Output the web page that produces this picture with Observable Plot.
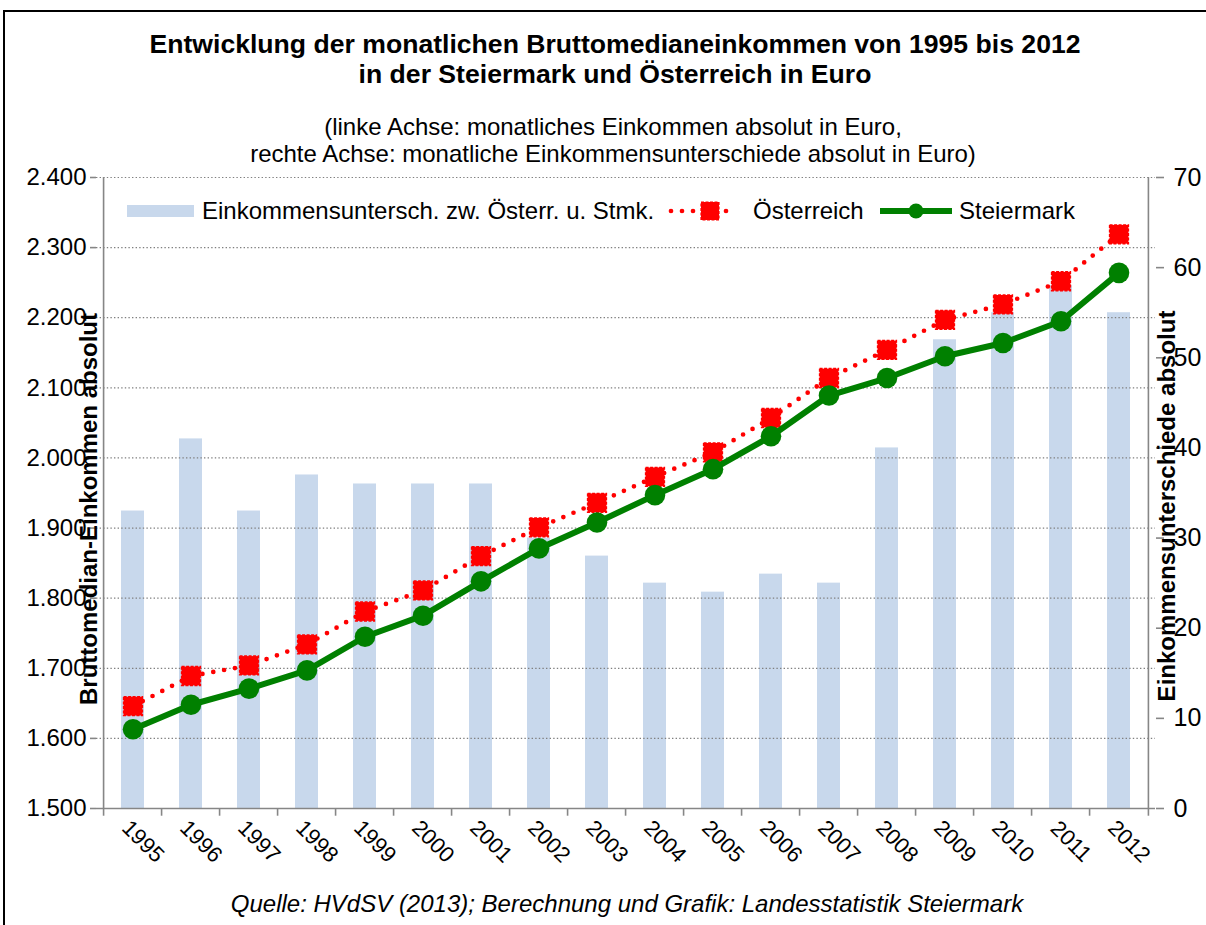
<!DOCTYPE html>
<html lang="de">
<head>
<meta charset="utf-8">
<script src="https://cdn.jsdelivr.net/npm/d3@7"></script>
<script src="https://cdn.jsdelivr.net/npm/@observablehq/plot@0.6"></script>
<style>
html,body{margin:0;padding:0;background:#fff;}
#wrap{position:relative;width:1206px;height:925px;overflow:hidden;font-family:"Liberation Sans",Arial,sans-serif;color:#000;background:#fff;}
#frame{position:absolute;left:3px;top:10px;width:1300px;height:1000px;border-left:2px solid #000;border-top:2px solid #000;}
#chart{position:absolute;left:0;top:0;}
.txt{position:absolute;white-space:nowrap;text-align:center;}
.title{font-weight:bold;font-size:26.6px;line-height:30px;top:29px;left:0;width:1230px;}
.sub{font-size:24px;line-height:27px;top:113px;left:0;width:1226px;}
.cap{font-style:italic;font-size:24px;line-height:26px;top:891px;left:0;width:1254px;}
.leg{position:absolute;top:197px;font-size:24px;line-height:28px;white-space:nowrap;}
.sym{position:absolute;overflow:visible;}
</style>
</head>
<body>
<div id="wrap">
  <div id="chart"></div>
  <div id="frame"></div>
  <div class="txt title" id="title"></div>
  <div class="txt sub" id="subtitle"></div>
  <div id="legend"></div>
  <div class="txt cap" id="caption"></div>
</div>
<script>
// ---- data ----
const years = ["1995","1996","1997","1998","1999","2000","2001","2002","2003","2004","2005","2006","2007","2008","2009","2010","2011","2012"];
const oesterreich = [1646,1689,1704,1734,1781,1811,1860,1901,1936,1973,2008,2057,2114,2154,2197,2219,2252,2319];
const steiermark  = [1613,1648,1671,1697,1745,1775,1824,1871,1908,1947,1984,2031,2089,2114,2145,2164,2195,2264];
const differenz   = [33,41,33,37,36,36,36,30,28,25,24,26,25,40,52,55,58,55];
const leftTicks  = [1500,1600,1700,1800,1900,2000,2100,2200,2300,2400];
const rightTicks = [0,10,20,30,40,50,60,70];
const seriesNames = ["Einkommensuntersch. zw. Österr. u. Stmk.", "Österreich", "Steiermark"];
const titleLines = ["Entwicklung der monatlichen Bruttomedianeinkommen von 1995 bis 2012", "in der Steiermark und Österreich in Euro"];
const subtitleLines = ["(linke Achse: monatliches Einkommen absolut in Euro,", "rechte Achse: monatliche Einkommensunterschiede absolut in Euro)"];
const leftTitle = "Bruttomedian-Einkommen absolut";
const rightTitle = "Einkommensunterschiede absolut";
const captionText = "Quelle: HVdSV (2013); Berechnung und Grafik: Landesstatistik Steiermark";

// ---- colours ----
const barColor = "#c8d8ec", redColor = "#ff0000", greenColor = "#008000", axisColor = "#868686";

// ---- texts ----
document.getElementById("title").innerHTML = titleLines.join("<br>");
document.getElementById("subtitle").innerHTML = subtitleLines.join("<br>");
document.getElementById("caption").textContent = captionText;

const legend = document.getElementById("legend");
legend.innerHTML = `
  <div class="sym" style="left:127px;top:205px;width:67px;height:12px;background:${barColor}"></div>
  <div class="leg" style="left:202px">${seriesNames[0]}</div>
  <svg class="sym" style="left:668px;top:200px" width="74" height="22">
    <line x1="3" y1="11" x2="69" y2="11" stroke="${redColor}" stroke-width="4.7" stroke-dasharray="0,11" stroke-linecap="round"/>
    <rect x="33" y="2" width="18" height="18" fill="${redColor}" stroke="${redColor}" stroke-width="1.2" stroke-dasharray="3,1.5"/>
  </svg>
  <div class="leg" style="left:753px">${seriesNames[1]}</div>
  <svg class="sym" style="left:878px;top:200px" width="76" height="22">
    <line x1="2" y1="11" x2="74" y2="11" stroke="${greenColor}" stroke-width="6"/>
    <circle cx="38" cy="11" r="7.5" fill="${greenColor}"/>
  </svg>
  <div class="leg" style="left:959px">${seriesNames[2]}</div>`;

// ---- scales helpers (secondary axis mapped onto the primary scale) ----
const L0 = 1500, L1 = 2400, R0 = 0, R1 = 70;
const rToL = v => L0 + (v - R0) * (L1 - L0) / (R1 - R0);
const lToR = v => R0 + (v - L0) * (R1 - R0) / (L1 - L0);
const rows = years.map((year, i) => ({year, oe: oesterreich[i], st: steiermark[i], diff: differenz[i]}));
const deFormat = d3.formatLocale({decimal: ",", thousands: ".", grouping: [3], currency: ["", " €"]}).format(",d");

const W = 1206, H = 925, mL = 96, mR = 51, mT = 177, mB = 117;
const half = (W - mL - mR) / years.length / 2;
const font = '"Liberation Sans", Arial, sans-serif';
const last = years[years.length - 1];

const chart = Plot.plot({
  width: W, height: H,
  marginTop: mT, marginBottom: mB, marginLeft: mL, marginRight: mR,
  style: {fontFamily: font, background: "transparent", overflow: "visible"},
  x: {type: "band", domain: years, paddingInner: 0.6, paddingOuter: 0.3, axis: null},
  y: {domain: [L0, L1], axis: null},
  marks: [
    Plot.barY(rows, {x: "year", y1: L0, y2: d => rToL(d.diff), fill: barColor}),
    Plot.ruleY(leftTicks.filter(t => t > L0), {stroke: "#808080", strokeWidth: 1.2, strokeDasharray: "1.4,2.2"}),
    Plot.ruleY([L0], {stroke: axisColor, strokeWidth: 1.6}),
    Plot.ruleX([years[0]], {x: d => d, y1: L0, y2: L1, dx: -half, stroke: axisColor, strokeWidth: 1.6}),
    Plot.ruleX([last], {x: d => d, y1: L0, y2: L1, dx: half, stroke: axisColor, strokeWidth: 1.6}),
    Plot.ruleX(years, {x: d => d, y1: L0, y2: L0 - 11, dx: -half, stroke: axisColor, strokeWidth: 1.6}),
    Plot.ruleX([last], {x: d => d, y1: L0, y2: L0 - 11, dx: half, stroke: axisColor, strokeWidth: 1.6}),
    Plot.axisY(leftTicks, {anchor: "left", tickFormat: deFormat, tickSize: 6, tickPadding: 4, fontSize: 24, color: "#000", stroke: axisColor, strokeWidth: 1.6}),
    Plot.axisY(rightTicks.map(rToL), {anchor: "right", tickFormat: v => String(Math.round(lToR(v))), tickSize: 8, tickPadding: 10, fontSize: 25, color: "#000", stroke: axisColor, strokeWidth: 1.6}),
    Plot.text(years, {x: d => d, y: L0, text: d => d, rotate: 45, textAnchor: "middle", dx: 10, dy: 33, fontSize: 22, fill: "#000"}),
    Plot.text([leftTitle], {frameAnchor: "left", text: d => d, rotate: -90, lineAnchor: "bottom", textAnchor: "middle", dy: 16, fontSize: 24, fontWeight: "bold", fill: "#000"}),
    Plot.text([rightTitle], {frameAnchor: "right", text: d => d, rotate: -90, lineAnchor: "bottom", textAnchor: "middle", dx: 19, dy: 13, fontSize: 24, fontWeight: "bold", fill: "#000"}),
    Plot.line(rows, {x: "year", y: "oe", stroke: redColor, strokeWidth: 4.7, strokeDasharray: "0,11", strokeLinecap: "round"}),
    Plot.dot(rows, {x: "year", y: "oe", symbol: "square", r: 10.6, fill: redColor, stroke: redColor, strokeWidth: 1.5, strokeDasharray: "3,1.5"}),
    Plot.line(rows, {x: "year", y: "st", stroke: greenColor, strokeWidth: 6}),
    Plot.dot(rows, {x: "year", y: "st", r: 10.3, fill: greenColor})
  ]
});
document.getElementById("chart").appendChild(chart);
</script>
</body>
</html>
